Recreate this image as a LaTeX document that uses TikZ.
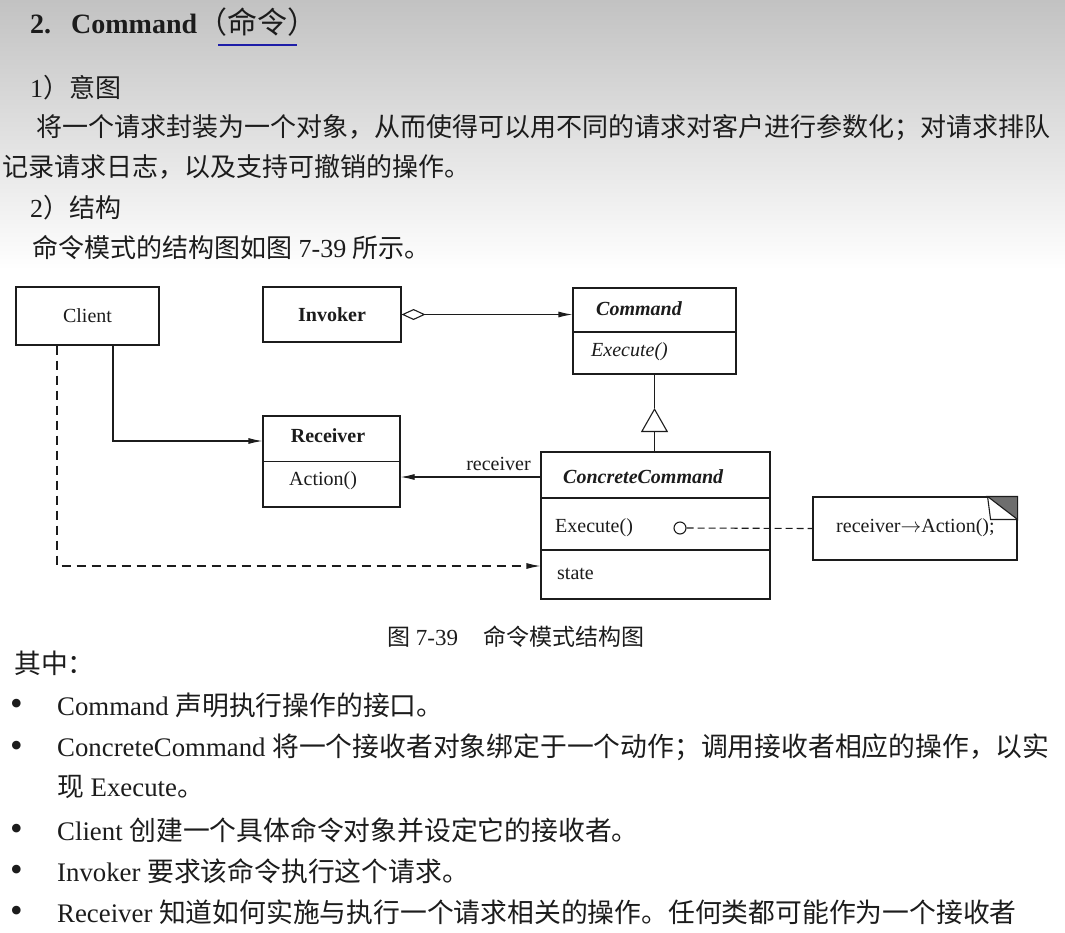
\documentclass[tikz,border=0pt]{standalone}
\usepackage{fontspec}
\setmainfont{Liberation Serif}
\newfontfamily\cjk{Noto Sans CJK SC}
\usetikzlibrary{positioning,arrows.meta,calc}
\definecolor{ink}{HTML}{1C1C1C}
\definecolor{pagegray}{HTML}{C2C2C2}
\definecolor{uline}{HTML}{1E1EA8}
\definecolor{fold}{HTML}{6E6E6E}
\newcommand\bodysz{\fontsize{26.8pt}{32pt}\selectfont}
\newcommand\introsz{\fontsize{26pt}{32pt}\selectfont}
\newcommand\umlsz{\fontsize{20pt}{24pt}\selectfont}
\tikzset{
  cls/.style={draw=ink, line width=1.1pt, fill=white, inner sep=0pt, font=\umlsz, text=ink},
  lbl/.style={inner sep=0pt, font=\umlsz, text=ink},
  txt/.style={inner sep=0pt, anchor=west, font=\bodysz, text=ink},
  intro/.style={txt, font=\introsz},
  dot/.style={txt, font=\fontsize{36pt}{36pt}\selectfont},
  assoc/.style={draw=ink, line width=1.1pt, -{Latex[length=14pt,width=6pt]}},
  dep/.style={assoc, dash pattern=on 9pt off 6pt},
  gen/.style={draw=ink, line width=1.1pt, -{Triangle[open,length=24pt,width=27pt]}},
  agg/.style={assoc, {Diamond[open,length=24pt,width=11pt]}-{Latex[length=14pt,width=6pt]}},
}

\begin{document}
\begin{tikzpicture}[x=1pt,y=-1pt]
  \useasboundingbox (0,0) rectangle (1065,932);
  \fill[white] (0,0) rectangle (1065,932);
  \shade[top color=pagegray, bottom color=white] (0,0) rectangle (1065,270);
  % heading and intent
  \node[txt, font=\fontsize{28pt}{32pt}\selectfont\bfseries] (head) at (30,22)
    {2.\hspace{20pt}Command{\mdseries\fontsize{30pt}{32pt}\selectfont\cjk （命令）}};
  \draw[uline, line width=2.6pt] (218,45) -- (297,45);
  \node[intro] (t1) at (30,88) {1{\cjk ）意图}};
  \node[intro] (t2) at (36,128) {\cjk 将一个请求封装为一个对象，从而使得可以用不同的请求对客户进行参数化；对请求排队};
  \node[intro] (t3) at (2,167) {\cjk 记录请求日志，以及支持可撤销的操作。};
  \node[intro] (t4) at (30,208) {2{\cjk ）结构}};
  \node[intro] (t5) at (32,248) {{\cjk 命令模式的结构图如图} 7-39 {\cjk 所示。}};

  % classes
  \node[cls, minimum width=143, minimum height=58] (cli) at (87.5,316) {Client};
  \node[cls, minimum width=138, minimum height=55, font=\umlsz\bfseries] (inv) at (332,314.5) {Invoker};
  \node[cls, minimum width=163, minimum height=86] (cmd) at (654.5,331) {};
  \draw[ink, line width=1.1pt] ([yshift=-1pt]cmd.west) -- ([yshift=-1pt]cmd.east);
  \node[lbl, anchor=west, font=\umlsz\bfseries\itshape] (cmdname) at (596,309) {Command};
  \node[lbl, anchor=west, font=\umlsz\itshape] (cmdop) at (591,352) {Execute()};
  \node[cls, minimum width=137, minimum height=91] (rcv) at (331.5,461.5) {};
  \draw[ink, line width=1.1pt] (rcv.west) -- (rcv.east);
  \node[lbl, font=\umlsz\bfseries] (rcvname) at (328,436) {Receiver};
  \node[lbl, anchor=west] (rcvop) at (289,481) {Action()};
  \node[cls, minimum width=229, minimum height=147] (cc) at (655.5,525.5) {};
  \draw[ink, line width=1.1pt] ([yshift=27.5pt]cc.west) -- ([yshift=27.5pt]cc.east);
  \draw[ink, line width=1.1pt] ([yshift=-24.5pt]cc.west) -- ([yshift=-24.5pt]cc.east);
  \node[lbl, anchor=west, font=\umlsz\bfseries\itshape] (ccname) at (563,477) {ConcreteCommand};
  \node[lbl, anchor=west] (ccop) at (555,528) {Execute()};
  \node[lbl, anchor=west] (ccstate) at (557,574) {state};
  \node[cls, minimum width=204, minimum height=63] (note) at (915,528.5) {};
  \filldraw[fill=fold, draw=ink, line width=1.1pt] ([xshift=-30pt]note.north east) -- (note.north east) -- ([yshift=-23pt]note.north east) -- cycle;
  \draw[ink, line width=1.1pt] ([xshift=-30pt]note.north east) -- ([xshift=-27pt,yshift=-23pt]note.north east) -- ([yshift=-23pt]note.north east);
  \node[lbl, anchor=west] (notetext) at (836,528) {receiver$\rightarrow$Action();};

  % relations
  \draw[agg] (inv.east) -- (inv.east -| cmd.west);
  \draw[assoc] ([xshift=25.5pt]cli.south) |- ([yshift=20.5pt]rcv.west);
  \draw[assoc] ([yshift=48.5pt]cc.west) -- node[lbl, above=6pt, pos=0.3] (rlabel) {receiver} ([yshift=48.5pt]cc.west -| rcv.east);
  \draw[dep] ([xshift=-30.5pt]cli.south) |- ([yshift=-40.5pt]cc.west);
  \draw[gen] (cmd.south |- cc.north) -- ([yshift=-33.5pt]cmd.south);
  \draw[ink, line width=1.1pt] ([yshift=-33.5pt]cmd.south) -- (cmd.south);
  \node[circle, draw=ink, line width=1.1pt, fill=white, minimum size=12pt, inner sep=0pt] (pin) at (680,528) {};
  \draw[ink, line width=1.1pt, dash pattern=on 7pt off 4pt] (pin.east) -- (note.west);

  % caption and notes
  \node[txt, font=\fontsize{23pt}{26pt}\selectfont] (cap) at (387,637) {{\cjk 图} 7-39\hspace{25pt}{\cjk 命令模式结构图}};
  \node[txt] (among) at (14,663) {\cjk 其中：};
  \node[dot] (d1) at (10,707) {\textbullet};
  \node[txt] (b1) at (57,705) {Command {\cjk 声明执行操作的接口。}};
  \node[dot] (d2) at (10,749) {\textbullet};
  \node[txt] (b2) at (57,747) {ConcreteCommand {\cjk 将一个接收者对象绑定于一个动作；调用接收者相应的操作，以实}};
  \node[txt] (b2b) at (57,787) {{\cjk 现} Execute{\cjk 。}};
  \node[dot] (d3) at (10,832) {\textbullet};
  \node[txt] (b3) at (57,830) {Client {\cjk 创建一个具体命令对象并设定它的接收者。}};
  \node[dot] (d4) at (10,873) {\textbullet};
  \node[txt] (b4) at (57,871) {Invoker {\cjk 要求该命令执行这个请求。}};
  \node[dot] (d5) at (10,914) {\textbullet};
  \node[txt] (b5) at (57,912) {Receiver {\cjk 知道如何实施与执行一个请求相关的操作。任何类都可能作为一个接收者}};
\end{tikzpicture}
\end{document}
